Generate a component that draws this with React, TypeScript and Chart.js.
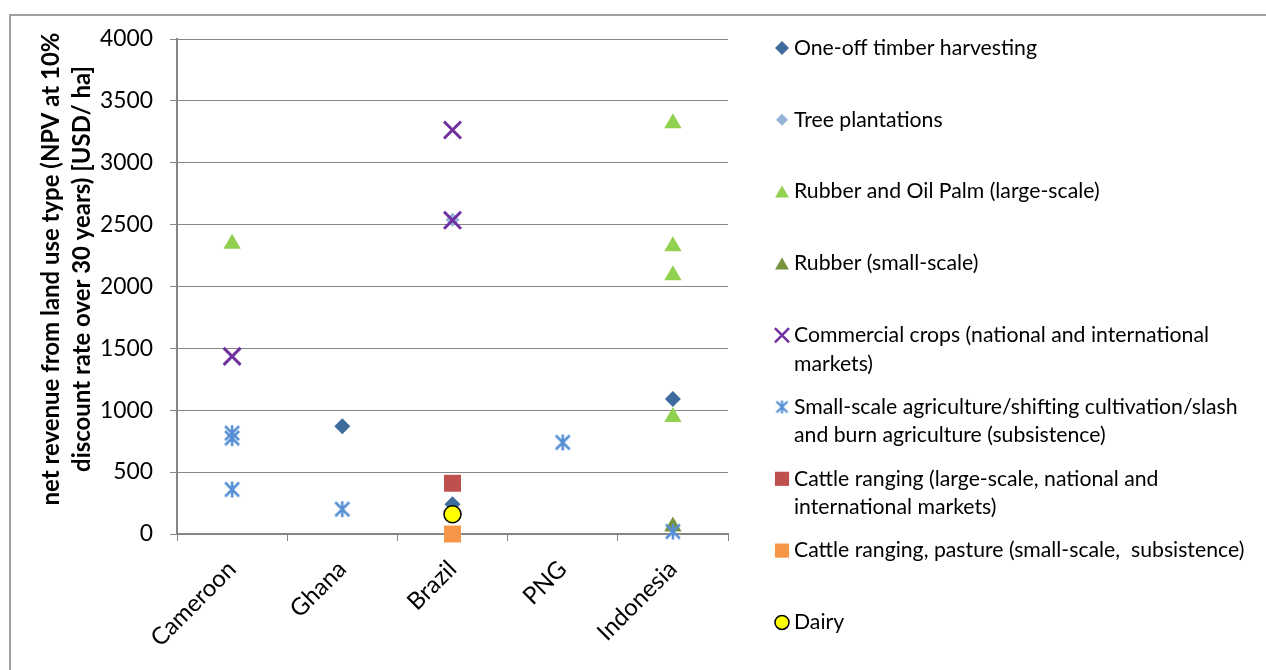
import React, { useEffect, useRef } from 'react';
import { Chart, registerables } from 'chart.js';
import { drawPoint } from 'chart.js/helpers';

Chart.register(...registerables);

// ---------- data ----------
const categories = ['Cameroon', 'Ghana', 'Brazil', 'PNG', 'Indonesia'];
const yMin = 0;
const yMax = 4000;
const yStep = 500;

const timberX = ['Ghana', 'Brazil', 'Indonesia'];
const timberY = [870, 240, 1090];

const treeX = ['Brazil'];
const treeY = [2540];

const oilPalmX = ['Cameroon', 'Indonesia', 'Indonesia', 'Indonesia', 'Indonesia'];
const oilPalmY = [2345, 3320, 2325, 2090, 945];

const rubberSmallX = ['Indonesia'];
const rubberSmallY = [60];

const commercialX = ['Cameroon', 'Brazil', 'Brazil'];
const commercialY = [1435, 3265, 2535];

const subsistenceX = ['Cameroon', 'Cameroon', 'Cameroon', 'Ghana', 'PNG', 'Indonesia'];
const subsistenceY = [815, 775, 360, 200, 740, 20];

const cattleLargeX = ['Brazil'];
const cattleLargeY = [410];

const cattleSmallX = ['Brazil'];
const cattleSmallY = [0];

const dairyX = ['Brazil'];
const dairyY = [160];

const seriesLabels = [
  'One-off timber harvesting',
  'Tree plantations',
  'Rubber and Oil Palm (large-scale)',
  'Rubber (small-scale)',
  'Commercial crops (national and international markets)',
  'Small-scale agriculture/shifting cultivation/slash and burn agriculture (subsistence)',
  'Cattle ranging (large-scale, national and international markets)',
  'Cattle ranging, pasture (small-scale,  subsistence)',
  'Dairy',
];

const legendLines = [
  ['One-off timber harvesting'],
  ['Tree plantations'],
  ['Rubber and Oil Palm (large-scale)'],
  ['Rubber (small-scale)'],
  ['Commercial crops (national and international', 'markets)'],
  ['Small-scale agriculture/shifting cultivation/slash', 'and burn agriculture (subsistence)'],
  ['Cattle ranging (large-scale, national and', 'international markets)'],
  ['Cattle ranging, pasture (small-scale,  subsistence)'],
  ['Dairy'],
];

const yTitleLines = ['net revenue from land use type (NPV at 10%', 'discount rate over 30 years) [USD/ ha]'];

// ---------- styling ----------
const FONT = 'Lato, "Open Sans", sans-serif';
const GRID = '#868686';

function pts(xs: string[], ys: number[]) {
  return xs.map((x, i) => ({ x, y: ys[i] }));
}

function fitSize(text: string, weight: string, target: number) {
  const c = document.createElement('canvas').getContext('2d')!;
  c.font = `${weight} 100px ${FONT}`;
  return (100 * target) / c.measureText(text).width;
}

function makeAsterisk(size: number, color: string, lw: number) {
  const pad = Math.ceil(lw);
  const dim = size + pad * 2;
  const c = document.createElement('canvas');
  c.width = dim;
  c.height = dim;
  const g = c.getContext('2d')!;
  g.strokeStyle = color;
  g.lineWidth = lw;
  const a = pad;
  const b = pad + size;
  const m = dim / 2;
  g.beginPath();
  g.moveTo(a + 1, a + 1);
  g.lineTo(b - 1, b - 1);
  g.moveTo(a + 1, b - 1);
  g.lineTo(b - 1, a + 1);
  g.moveTo(m, a);
  g.lineTo(m, b);
  g.stroke();
  return c;
}

type MarkerStyle = {
  style: any;
  color: string;
  border: string;
  borderWidth: number;
  radius: number;
  legendStyle: any;
  legendRadius: number;
  legendBorderWidth: number;
};

export default function App() {
  const ref = useRef<HTMLCanvasElement | null>(null);

  useEffect(() => {
    if (!ref.current) return;
    const tickSize = fitSize('4000', 'normal', 53);
    const xTickSize = fitSize('Cameroon', 'normal', 109);
    const legendSize = fitSize('One-off timber harvesting', 'normal', 243);
    const titleSize = fitSize(yTitleLines[0], 'bold', 473);

    const starPlot = makeAsterisk(16, '#558ED5', 2.5);
    const starLegend = makeAsterisk(13, '#558ED5', 2.2);

    const markers: MarkerStyle[] = [
      { style: 'rectRot', color: '#3F6B9C', border: '#3F6B9C', borderWidth: 0, radius: 8, legendStyle: 'rectRot', legendRadius: 7, legendBorderWidth: 0 },
      { style: 'rectRot', color: '#95B3D7', border: '#95B3D7', borderWidth: 0, radius: 7, legendStyle: 'rectRot', legendRadius: 6, legendBorderWidth: 0 },
      { style: 'triangle', color: '#92D050', border: '#92D050', borderWidth: 0, radius: 10, legendStyle: 'triangle', legendRadius: 8, legendBorderWidth: 0 },
      { style: 'triangle', color: '#77933C', border: '#77933C', borderWidth: 0, radius: 10, legendStyle: 'triangle', legendRadius: 8, legendBorderWidth: 0 },
      { style: 'crossRot', color: '#7030A0', border: '#7030A0', borderWidth: 3, radius: 12, legendStyle: 'crossRot', legendRadius: 10, legendBorderWidth: 2.5 },
      { style: starPlot, color: '#558ED5', border: '#558ED5', borderWidth: 0, radius: 9, legendStyle: starLegend, legendRadius: 7, legendBorderWidth: 0 },
      { style: 'rect', color: '#C0504D', border: '#C0504D', borderWidth: 0, radius: 12, legendStyle: 'rect', legendRadius: 10, legendBorderWidth: 0 },
      { style: 'rect', color: '#F79646', border: '#F79646', borderWidth: 0, radius: 12, legendStyle: 'rect', legendRadius: 10, legendBorderWidth: 0 },
      { style: 'circle', color: '#FFFF00', border: '#000000', borderWidth: 1.5, radius: 8.5, legendStyle: 'circle', legendRadius: 7, legendBorderWidth: 1.5 },
    ];

    const seriesData = [
      pts(timberX, timberY),
      pts(treeX, treeY),
      pts(oilPalmX, oilPalmY),
      pts(rubberSmallX, rubberSmallY),
      pts(commercialX, commercialY),
      pts(subsistenceX, subsistenceY),
      pts(cattleLargeX, cattleLargeY),
      pts(cattleSmallX, cattleSmallY),
      pts(dairyX, dairyY),
    ];

    const n = seriesData.length;
    const datasets = seriesData.map((d, i) => ({
      label: seriesLabels[i],
      data: d,
      showLine: false,
      clip: false,
      order: n - i,
      pointStyle: markers[i].style,
      pointRadius: markers[i].radius,
      pointBackgroundColor: markers[i].color,
      pointBorderColor: markers[i].border,
      pointBorderWidth: markers[i].borderWidth,
      backgroundColor: markers[i].color,
      borderColor: markers[i].border,
    }));

    const sidePlugin = {
      id: 'sideLegendAndTitle',
      afterDraw(chart: any) {
        const ctx = chart.ctx as CanvasRenderingContext2D;
        const area = chart.chartArea;
        // y-axis title
        ctx.save();
        ctx.translate(area.left - 126, 269);
        ctx.rotate(-Math.PI / 2);
        ctx.font = `bold ${titleSize}px ${FONT}`;
        ctx.fillStyle = '#000';
        ctx.textAlign = 'center';
        ctx.textBaseline = 'middle';
        yTitleLines.forEach((line, i) => ctx.fillText(line, 0, i * 31));
        ctx.restore();

        // legend
        const markerX = area.right + 54;
        const textX = area.right + 66;
        const firstY = 48;
        const step = 71.8;
        const lineH = 28.5;
        ctx.save();
        ctx.font = `${legendSize}px ${FONT}`;
        ctx.textAlign = 'left';
        ctx.textBaseline = 'middle';
        legendLines.forEach((lines, i) => {
          const y = firstY + i * step;
          const m = markers[i];
          ctx.save();
          ctx.fillStyle = m.color;
          ctx.strokeStyle = m.border;
          ctx.lineWidth = m.legendBorderWidth;
          drawPoint(ctx, { pointStyle: m.legendStyle, radius: m.legendRadius, rotation: 0, borderWidth: m.legendBorderWidth } as any, markerX, m.legendStyle === 'triangle' ? y + 2 : y);
          ctx.restore();
          ctx.fillStyle = '#000';
          lines.forEach((t, j) => ctx.fillText(t, textX, y + j * lineH));
        });
        ctx.restore();
      },
    };

    const chart = new Chart(ref.current, {
      type: 'line',
      data: { labels: categories, datasets: datasets as any },
      options: {
        responsive: true,
        maintainAspectRatio: false,
        animation: false,
        events: [],
        layout: { padding: { left: 0, right: 538, top: 39, bottom: 0 } },
        plugins: {
          legend: { display: false },
          tooltip: { enabled: false },
          title: { display: false },
        },
        scales: {
          x: {
            type: 'category',
            offset: true,
            grid: {
              display: true,
              offset: true,
              drawOnChartArea: false,
              drawTicks: true,
              tickLength: 7,
              color: GRID,
              lineWidth: 1,
            },
            border: { display: true, color: GRID, width: 2 },
            ticks: {
              autoSkip: false,
              maxRotation: 45,
              minRotation: 45,
              padding: 14,
              color: '#000',
              font: { family: FONT, size: xTickSize },
            },
            afterFit: (s: any) => {
              s.height = 136;
            },
          },
          y: {
            min: yMin,
            max: yMax,
            ticks: {
              stepSize: yStep,
              padding: 17,
              color: '#000',
              font: { family: FONT, size: tickSize },
              callback: (v: any) => String(v),
            },
            grid: { color: GRID, lineWidth: 1, tickLength: 7 },
            border: { display: true, color: GRID, width: 2 },
            afterFit: (s: any) => {
              s.width = 177;
            },
          },
        },
      },
      plugins: [sidePlugin],
    });
    return () => chart.destroy();
  }, []);

  return (
    <div style={{ position: 'fixed', left: 0, top: 0, width: 1266, height: 670, overflow: 'hidden', background: '#fff' }}>
      <div style={{ position: 'absolute', left: 9, top: 14, width: 1300, height: 700, border: '2px solid #a0a0a0', boxSizing: 'border-box' }} />
      <div style={{ position: 'absolute', left: 0, top: 0, width: 1266, height: 670 }}>
        <canvas ref={ref} />
      </div>
    </div>
  );
}
